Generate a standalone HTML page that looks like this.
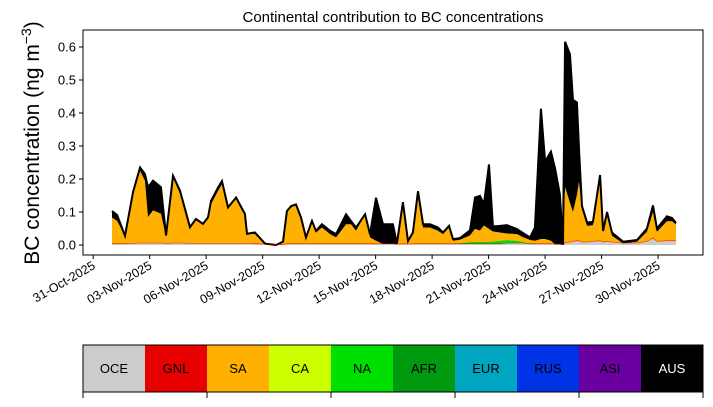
<!DOCTYPE html>
<html><head><meta charset="utf-8"><style>
body{margin:0;background:#fff;font-family:"Liberation Sans",sans-serif}
svg text{font-family:"Liberation Sans",sans-serif}
</style></head><body>
<svg id="c" width="713" height="402" viewBox="0 0 713 402"></svg>
<script>
const days=[0,0.27,0.69,1.12,1.49,1.75,1.91,2.18,2.60,2.87,3.24,3.61,4.14,4.46,4.83,5.10,5.26,5.63,5.84,6.16,6.59,7.06,7.17,7.59,8.13,8.71,9.08,9.29,9.51,9.77,10.04,10.30,10.62,10.83,11.15,11.58,11.90,12.43,12.69,12.96,13.44,13.70,14.02,14.39,14.92,15.13,15.45,15.72,15.98,16.25,16.52,16.89,17.31,17.58,17.90,18.11,18.48,19.01,19.28,19.54,19.75,20.02,20.23,20.61,20.98,21.51,21.83,22.20,22.46,22.78,23.00,23.31,23.53,23.79,23.95,24.06,24.32,24.48,24.69,24.80,24.96,25.23,25.54,25.92,26.08,26.29,26.55,27.14,27.88,28.41,28.73,28.94,29.47,29.74,29.95];
const sa=[0.08,0.07,0.025,0.15,0.22,0.19,0.08,0.10,0.09,0.02,0.20,0.15,0.05,0.07,0.06,0.08,0.12,0.16,0.18,0.11,0.14,0.09,0.03,0.03,0,0,0.01,0.10,0.11,0.12,0.08,0.02,0.065,0.035,0.05,0.03,0.02,0.06,0.06,0.04,0.09,0.02,0.01,0,0,0,0.12,0.01,0.03,0.15,0.05,0.05,0.04,0.03,0.05,0.01,0.01,0.02,0.04,0.035,0.05,0.04,0.03,0.025,0.02,0.02,0.015,0.01,0.01,0.015,0.015,0.01,0,0,0,0.17,0.12,0.09,0.14,0.18,0.10,0.05,0.05,0.19,0.03,0.08,0.02,0,0.005,0.03,0.08,0.03,0.06,0.06,0.05];
const aus=[0.02,0.018,0,0.007,0.01,0.02,0.09,0.09,0.08,0.005,0.005,0.01,0,0.005,0,0,0.01,0.01,0.01,0,0,0,0,0.005,0.002,0,0,0,0.005,0,0,0,0.005,0.005,0.01,0.01,0.01,0.03,0.01,0.01,0,0.01,0.13,0.06,0.06,0.002,0.007,0,0.005,0.01,0.01,0.01,0.01,0.005,0.005,0.005,0.005,0.015,0.095,0.105,0.065,0.195,0.015,0.02,0.025,0.015,0.012,0.008,0.04,0.395,0.235,0.27,0.23,0.15,0,0.44,0.45,0.34,0.28,0.1,0.01,0.01,0.01,0.01,0.005,0.01,0.01,0.005,0.005,0.01,0.02,0.01,0.015,0.01,0.005];
const oce=[0.003,0.003,0.003,0.004,0.005,0.005,0.005,0.005,0.005,0.004,0.005,0.005,0.004,0.004,0.004,0.004,0.004,0.004,0.004,0.004,0.004,0.004,0.004,0.003,0.002,0,0,0.003,0.003,0.003,0.003,0.003,0.003,0.003,0.003,0.003,0.003,0.003,0.003,0.003,0.003,0.003,0.003,0.003,0.003,0.002,0.003,0.002,0.003,0.003,0.003,0.003,0.003,0.003,0.003,0.003,0.003,0.003,0.003,0.003,0.003,0.003,0.003,0.003,0.005,0.005,0.005,0.003,0.003,0.003,0.003,0.003,0.002,0.002,0,0.006,0.008,0.01,0.012,0.012,0.008,0.008,0.01,0.012,0.008,0.01,0.008,0.005,0.005,0.01,0.02,0.01,0.012,0.012,0.012];
const na=[0,0,0,0,0,0,0,0,0,0,0,0,0,0,0,0,0,0,0,0,0,0,0,0,0,0,0,0,0,0,0,0,0,0,0,0,0,0,0,0,0,0,0,0,0,0,0,0,0,0,0,0,0,0,0,0,0.003,0.006,0.006,0.006,0.006,0.006,0.008,0.01,0.01,0.008,0.004,0.002,0,0,0,0,0,0,0,0,0,0,0,0,0,0,0,0,0,0,0,0,0,0,0,0,0,0,0];
const yTicks=[0,0.1,0.2,0.3,0.4,0.5,0.6];
const xTickLabels=["31-Oct-2025","03-Nov-2025","06-Nov-2025","09-Nov-2025","12-Nov-2025","15-Nov-2025","18-Nov-2025","21-Nov-2025","24-Nov-2025","27-Nov-2025","30-Nov-2025"];
const xTickDays=[-1,2,5,8,11,14,17,20,23,26,29];
const regions=["OCE","GNL","SA","CA","NA","AFR","EUR","RUS","ASI","AUS"];
const regionColors=["#cccccc","#e60000","#ffb000","#ccff00","#00e000","#009a10","#00a5c0","#0032e6","#6a00a0","#000000"];

const NS="http://www.w3.org/2000/svg";
const svg=document.getElementById('c');
const L=83,R=703,T=30,B=255;
const X=d=>112+d*18.83;
const Y=v=>245-v*330;
function mk(t,a,p){const e=document.createElementNS(NS,t);for(const k in a)e.setAttribute(k,a[k]);(p||svg).appendChild(e);return e;}

const layers=[[oce,"#cccccc","oce"],[na,"#00e000","na"],[sa,"#ffb000","sa"],[aus,"#000000","aus"]];
let base=days.map(()=>0);
layers.forEach(([arr,col,nm])=>{
  const top=base.map((b,i)=>b+arr[i]);
  let d="M"+days.map((t,i)=>X(t)+","+Y(top[i])).join("L");
  for(let i=days.length-1;i>=0;i--)d+="L"+X(days[i])+","+Y(base[i]);
  const p=mk('path',{d:d+"Z",fill:col,stroke:'none'});
  
  
  base=top;
});
const tl=mk('path',{d:"M"+days.map((t,i)=>X(t)+","+Y(base[i])).join("L"),fill:'none',stroke:'#000','stroke-width':2});


const gl=mk('path',{d:"M"+days.map((t,i)=>X(t)+","+Y(oce[i]+0.001)).join("L"),fill:'none',stroke:'#e60000','stroke-width':0.8,opacity:0.6});



const fr=mk('rect',{x:L,y:T,width:R-L,height:B-T,fill:'none',stroke:'#000','stroke-width':1});



yTicks.forEach(v=>{
  mk('line',{x1:L-4,x2:L,y1:Y(v),y2:Y(v),stroke:'#000'});
  const t=mk('text',{x:L-7,y:Y(v)+4.5,'text-anchor':'end','font-size':13});
  t.textContent=v.toFixed(1);
  
  
});
xTickDays.forEach((d,i)=>{
  const x=X(d);
  mk('line',{x1:x,x2:x,y1:B,y2:B+4,stroke:'#000'});
  const t=mk('text',{x:x+3,y:B+13,'text-anchor':'end','font-size':12.5,transform:`rotate(-30 ${x+3} ${B+13})`});
  t.textContent=xTickLabels[i];
  
  
});
const ti=mk('text',{x:393,y:22,'text-anchor':'middle','font-size':15});
ti.textContent="Continental contribution to BC concentrations";


const yl=mk('text',{x:0,y:0,'text-anchor':'middle','font-size':21,transform:'translate(39,143) rotate(-90)'});
yl.innerHTML='BC concentration (ng m<tspan dy="-8" font-size="14">−3</tspan><tspan dy="8">)</tspan>';



const cw=(R-L)/regions.length;
regions.forEach((r,i)=>{
  const g=mk('g',{});
  
  
  mk('rect',{x:L+i*cw,y:345,width:cw,height:47,fill:regionColors[i]},g);
  const t=mk('text',{x:L+i*cw+cw/2,y:373,'text-anchor':'middle','font-size':13,fill:r==="AUS"?"#fff":"#000"},g);
  t.textContent=r;
});
mk('rect',{x:L,y:345,width:R-L,height:47,fill:'none',stroke:'#000'});
for(let i=0;i<=regions.length;i+=2){const x=L+i*cw;mk('line',{x1:x,x2:x,y1:392,y2:398,stroke:'#000'});}
</script>
</body></html>
